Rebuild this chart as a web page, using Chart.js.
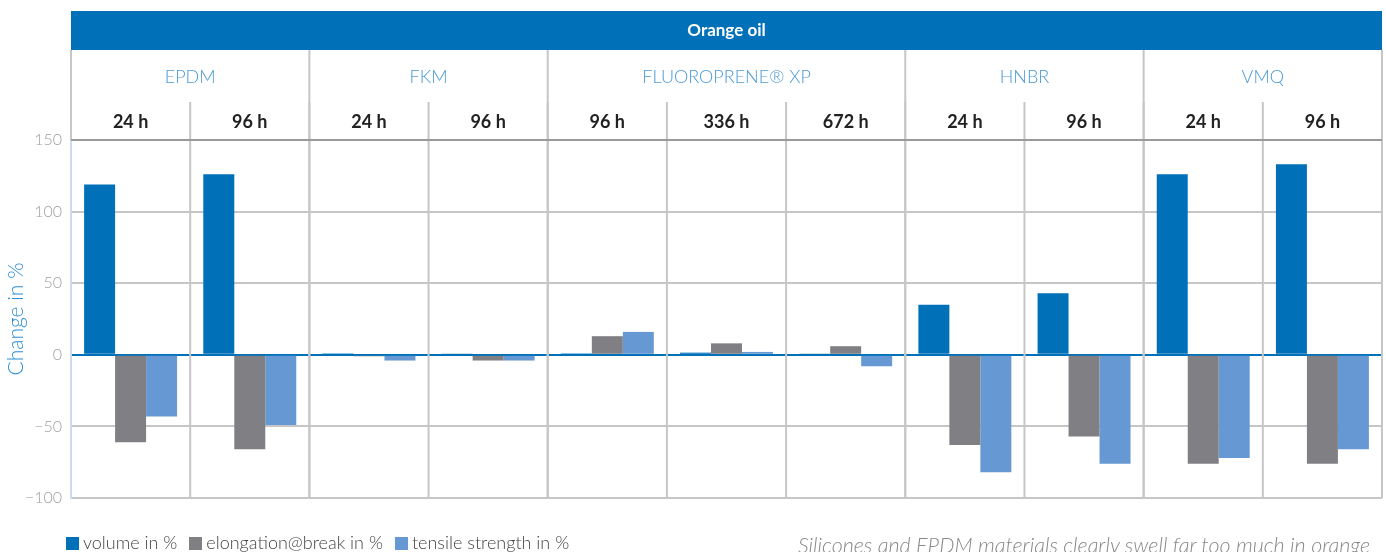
<!DOCTYPE html>
<html lang="en">
<head>
<meta charset="UTF-8">
<script src="https://cdn.jsdelivr.net/npm/chart.js"></script>
<style>
  body { margin: 0; background: #fff; overflow: hidden; }
  #wrap { position: relative; width: 1386px; height: 552px; overflow: hidden; }
  #legend { position: absolute; left: 66px; top: 531px; font: 300 18px Lato, sans-serif; color: #444; white-space: nowrap; }
  #legend span.box { display: inline-block; width: 13px; height: 13px; vertical-align: -1px; margin-right: 4px; }
  #legend span.item { margin-right: 12px; }
  #caption { position: absolute; right: 16px; top: 532px; font: italic 300 21.5px Lato, sans-serif; color: #888; white-space: nowrap; }
</style>
</head>
<body>
<div id="wrap">
  <canvas id="myChart" width="1386" height="552"></canvas>
  <div id="legend"></div>
  <div id="caption">Silicones and EPDM materials clearly swell far too much in orange</div>
</div>
<script>
// data
const title = 'Orange oil'
const materials = ['EPDM', 'FKM', 'FLUOROPRENE® XP', 'HNBR', 'VMQ']
const materialSpans = [2, 2, 3, 2, 2]
const times = ['24 h', '96 h', '24 h', '96 h', '96 h', '336 h', '672 h', '24 h', '96 h', '24 h', '96 h']
const volume = [119, 126, 1, 0.3, 1, 1.5, 0.3, 35, 43, 126, 133]
const elongation = [-61, -66, -1, -4, 13, 8, 6, -63, -57, -76, -76]
const tensile = [-43, -49, -4, -4, 16, 2, -8, -82, -76, -72, -66]
const yTicks = [150, 100, 50, 0, -50, -100]

const seriesNames = ['volume in %', 'elongation@break in %', 'tensile strength in %']
const colors = ['#0070b9', '#808084', '#6699d3']

// legend as html
const legend = document.getElementById('legend')
seriesNames.forEach((name, i) => {
  legend.innerHTML += '<span class="item"><span class="box" style="background:' + colors[i] + '"></span>' + name + '</span>'
})

const headerPlugin = {
  id: 'header',
  afterDraw(chart) {
    const ctx = chart.ctx
    const area = chart.chartArea
    const x = chart.scales.x
    const bound = i => {
      if (i <= 0) return area.left
      if (i >= times.length) return area.right
      return (x.getPixelForValue(i - 1) + x.getPixelForValue(i)) / 2
    }
    ctx.save()
    // blue title bar
    ctx.fillStyle = '#0070b9'
    ctx.fillRect(area.left, 11, area.right - area.left, 39)
    ctx.fillStyle = '#fff'
    ctx.font = 'bold 17px Lato, sans-serif'
    ctx.textAlign = 'center'
    ctx.textBaseline = 'middle'
    ctx.fillText(title, (area.left + area.right) / 2, 31)

    ctx.strokeStyle = '#c6c6c6'
    ctx.lineWidth = 2
    // time column separators
    for (let i = 1; i < times.length; i++) {
      ctx.beginPath()
      ctx.moveTo(bound(i), 102)
      ctx.lineTo(bound(i), area.bottom)
      ctx.stroke()
    }
    // material separators + labels
    let start = 0
    materials.forEach((m, k) => {
      const end = start + materialSpans[k]
      const x0 = bound(start), x1 = bound(end)
      ctx.beginPath()
      ctx.moveTo(x0, 50)
      ctx.lineTo(x0, k === 0 ? area.top : area.bottom)
      ctx.stroke()
      ctx.fillStyle = '#4a9ad6'
      ctx.font = '300 18px Lato, sans-serif'
      ctx.fillText(m, (x0 + x1) / 2, 77)
      start = end
    })
    ctx.beginPath()
    ctx.moveTo(area.right, 50)
    ctx.lineTo(area.right, area.bottom)
    ctx.stroke()
    // time labels
    ctx.fillStyle = '#222'
    ctx.font = 'bold 18px Lato, sans-serif'
    times.forEach((t, i) => {
      ctx.fillText(t, x.getPixelForValue(i), 122)
    })
    // top line of plot
    ctx.strokeStyle = '#9a9a9a'
    ctx.beginPath()
    ctx.moveTo(area.left, area.top)
    ctx.lineTo(area.right, area.top)
    ctx.stroke()
    ctx.restore()
  }
}

const ctx = document.getElementById('myChart')
new Chart(ctx, {
  type: 'bar',
  data: {
    labels: times,
    datasets: [
      { label: seriesNames[0], data: volume, backgroundColor: colors[0] },
      { label: seriesNames[1], data: elongation, backgroundColor: colors[1] },
      { label: seriesNames[2], data: tensile, backgroundColor: colors[2] }
    ]
  },
  options: {
    responsive: false,
    animation: false,
    layout: { padding: { top: 140, bottom: 54, right: 4, left: 0 } },
    datasets: { bar: { categoryPercentage: 0.78, barPercentage: 1.0 } },
    plugins: { legend: { display: false }, tooltip: { enabled: false } },
    scales: {
      x: { display: false },
      y: {
        min: -100,
        max: 150,
        afterBuildTicks: scale => { scale.ticks = yTicks.map(v => ({ value: v })) },
        afterFit: scale => { scale.width = 71 },
        border: { color: '#c9dcf0', width: 2 },
        grid: {
          drawTicks: false,
          color: c => c.tick.value === 0 ? '#0070b9' : '#c6c6c6',
          lineWidth: c => 2
        },
        ticks: {
          padding: 9,
          color: '#a0a0a0',
          font: { family: 'Lato, sans-serif', size: 16, weight: 300 },
          callback: v => String(v).replace('-', '\u2212')
        },
        title: {
          display: true,
          text: 'Change in %',
          color: '#2f8fd6',
          font: { family: 'Lato, sans-serif', size: 21, weight: 300 },
          padding: { top: 4, bottom: 0 }
        }
      }
    }
  },
  plugins: [headerPlugin]
})
</script>
</body>
</html>
